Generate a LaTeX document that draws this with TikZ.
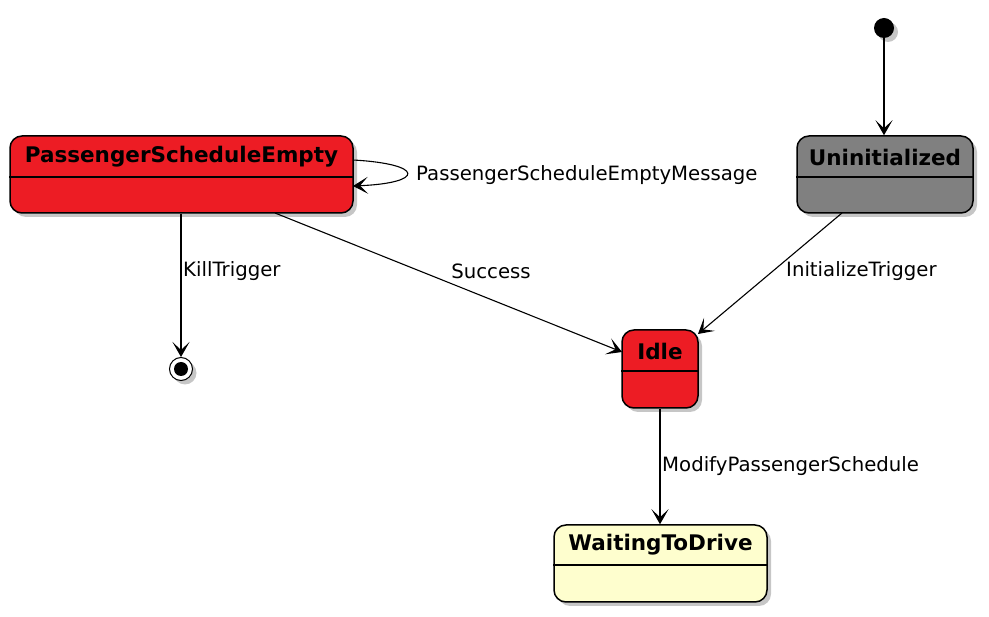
\documentclass[tikz,border=0pt]{standalone}
\usepackage{fontspec}
\setmainfont{DejaVu Sans}
\usetikzlibrary{arrows.meta,shadows,calc}
\definecolor{stred}{HTML}{ED1C24}
\definecolor{stgray}{HTML}{808080}
\definecolor{styellow}{HTML}{FEFECE}
\tikzset{
  shad/.style={drop shadow={shadow xshift=4pt, shadow yshift=-4pt, opacity=0.45, fill=gray}},
  statebox/.style={draw=black, line width=1.5pt, rounded corners=12pt, inner sep=0pt, shad},
  title/.style={font=\bfseries\fontsize{21.5}{24}\selectfont, inner sep=0pt},
  lbl/.style={font=\fontsize{19.7}{22}\selectfont, inner sep=0pt},
  edge/.style={draw=black, line width=1.1pt, -{Stealth[length=15pt, width=17pt, inset=8pt]}},
}
\begin{document}
\begin{tikzpicture}[x=1pt,y=-1pt]
\useasboundingbox (0,0) rectangle (989,617);
% states
\node[statebox, fill=stred, minimum width=343pt, minimum height=77pt] (pse) at (181.5,174.5) {};
\node[title] (pset) at (181.5,157) {PassengerScheduleEmpty};
\draw[line width=1.5pt] ($(pse.west)+(0,2.5)$) -- ($(pse.east)+(0,2.5)$);

\node[statebox, fill=stgray, minimum width=176pt, minimum height=77pt] (uni) at (885,174.5) {};
\node[title] (unit) at (885,157) {Uninitialized};
\draw[line width=1.5pt] ($(uni.west)+(0,2.5)$) -- ($(uni.east)+(0,2.5)$);

\node[statebox, fill=stred, minimum width=76pt, minimum height=78pt] (idle) at (660,369) {};
\node[title] (idlet) at (660,351) {Idle};
\draw[line width=1.5pt] ($(idle.west)+(0,2)$) -- ($(idle.east)+(0,2)$);

\node[statebox, fill=styellow, minimum width=213pt, minimum height=77pt] (wtd) at (660.5,563.5) {};
\node[title] (wtdt) at (660.5,545) {WaitingToDrive};
\draw[line width=1.5pt] ($(wtd.west)+(0,1.5)$) -- ($(wtd.east)+(0,1.5)$);

% initial and final
\node[circle, fill=black, minimum size=20pt, inner sep=0pt, shad] (init) at (884,28) {};
\node[circle, draw=black, fill=white, line width=1pt, minimum size=23pt, inner sep=0pt, shad] (fin) at (181,369) {};
\node[circle, fill=black, minimum size=14pt, inner sep=0pt] (finin) at (181,369) {};

% edges
\draw[edge] (init) -- (init |- uni.north);
\draw[edge] (pse.south -| fin) -- (fin.north);
\node[lbl, anchor=west] (l1) at (183,271) {KillTrigger};
\coordinate (pseS) at (275,213);
\coordinate (idleW) at (622,352);
\draw[edge] (pseS) -- (idleW);
\node[lbl] (l2) at (491,271) {Success};
\coordinate (uniS) at (842,213);
\coordinate (idleNE) at (698,334);
\draw[edge] (uniS) -- (idleNE);
\node[lbl, anchor=west] (l3) at (786,271) {InitializeTrigger};
\draw[edge] (idle.south) -- (idle.south |- wtd.north);
\node[lbl, anchor=west] (l4) at (662,466) {ModifyPassengerSchedule};
\coordinate (loopA) at (353,160);
\coordinate (loopB) at (353,186);
\draw[edge] (loopA) .. controls (425,164) and (425,183) .. (loopB);
\node[lbl, anchor=west] (l5) at (416,175) {PassengerScheduleEmptyMessage};
\end{tikzpicture}
\end{document}
